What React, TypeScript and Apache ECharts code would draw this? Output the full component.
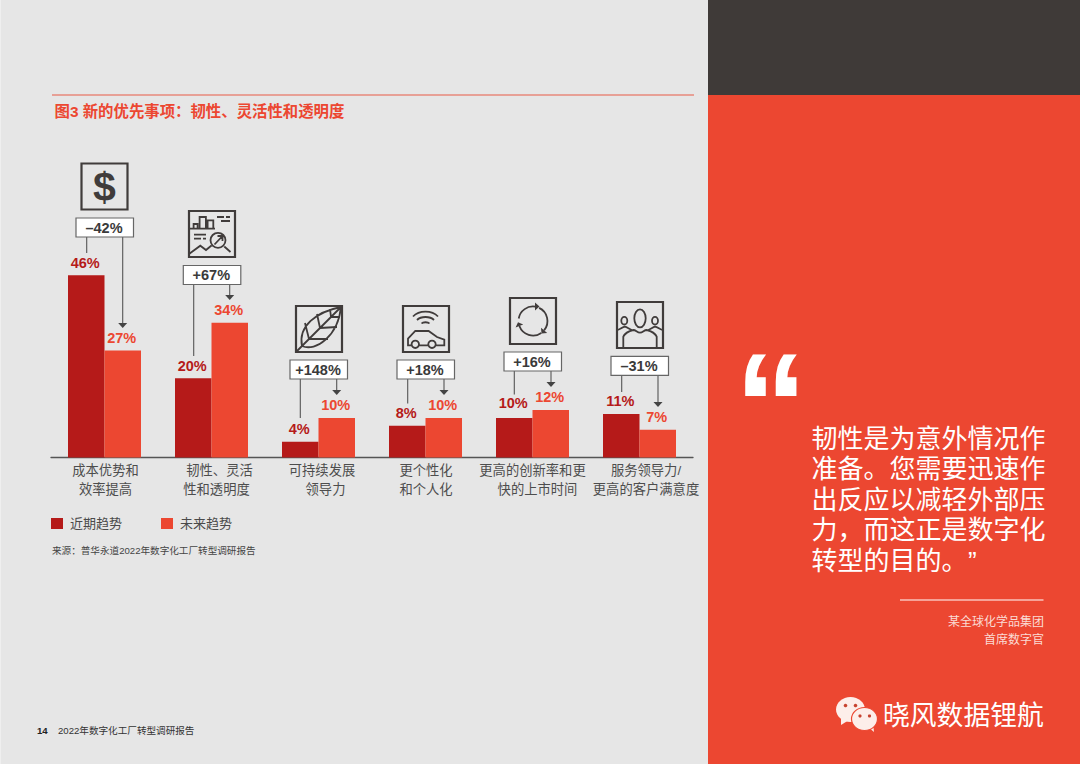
import React, { useEffect, useRef } from "react";
import * as echarts from "echarts";

const FONT = '"Liberation Sans","Noto Sans CJK SC",sans-serif';
const RED = "#ec4731";
const DARK_RED = "#b51a19";
const INK = "#403c3b";

const categories = [
  "成本优势和\n效率提高",
  "韧性、灵活\n性和透明度",
  "可持续发展\n领导力",
  "更个性化\n和个人化",
  "更高的创新率和更\n快的上市时间",
  "服务领导力/\n更高的客户满意度",
];
const recentValues = [46, 20, 4, 8, 10, 11];
const futureValues = [27, 34, 10, 10, 12, 7];
const changeLabels = ["–42%", "+67%", "+148%", "+18%", "+16%", "–31%"];
const seriesNames = ["近期趋势", "未来趋势"];
const titleText = "图3 新的优先事项：韧性、灵活性和透明度";
const sourceText = "来源：普华永道2022年数字化工厂转型调研报告";
const pageNumber = "14";
const footerText = "2022年数字化工厂转型调研报告";
const quoteLines = [
  "韧性是为意外情况作",
  "准备。您需要迅速作",
  "出反应以减轻外部压",
  "力，而这正是数字化",
  "转型的目的。",
];
const quoteClose = "”";
const attribution = ["某全球化学品集团", "首席数字官"];
const watermark = "晓风数据锂航";

// horizontal nudge (px) of each line of each axis label, as laid out in the reference
const labelNudges = [
  [1, 1],
  [8, 5],
  [3.5, 7],
  [0.5, 0.5],
  [0, 5],
  [6.5, 6.5],
];

// annotation layout: icon box, change box, left leader end, right arrow tip
const annotationLayout = [
  { ix: 81.5, iy: 163.5, bx: 76, by: 218, lx: 86.7, ly: 253, rx: 122.7, ry: 328 },
  { ix: 189, iy: 211, bx: 183.3, by: 265.5, lx: 193.7, ly: 356, rx: 229.7, ry: 300 },
  { ix: 296, iy: 306, bx: 290, by: 360, lx: 300.3, ly: 418, rx: 336.7, ry: 395 },
  { ix: 403, iy: 306, bx: 397, by: 360, lx: 407.7, ly: 403.5, rx: 444, ry: 395 },
  { ix: 510, iy: 298, bx: 504, by: 352, lx: 514.3, ly: 394.5, rx: 551, ry: 387 },
  { ix: 617, iy: 302, bx: 611, by: 356.3, lx: 621.7, ly: 392, rx: 658, ry: 407 },
];

const iconPaths: Record<string, string> = {
  iconChart:
    "M0 17.6H26M4.6 17.6V13H8.6V17.6M10.6 17.6V6H16.9V17.6M18.6 17.6V9.3H24.3V17.6M28 6H35M37 6H41M32 10H41M5 23.6H17M5 27.6H12M14 27.6H17" +
    "M36.5 29.3A7.5 7.5 0 1 1 21.5 29.3A7.5 7.5 0 1 1 36.5 29.3M35.3 35.5L41.5 41M0 43L11.3 34.7L17 39L22.5 34.5M25.5 33.5L33 25.5M28.5 25H33.5V30",
  iconLeaf:
    "M0 46L46 0M6 40C2 20 20 6 45 1M6 40C20 46 42 30 45 1M13 33L9 17M24 22L21 8M35 11L34 3M13 33L32 33M24 22L41 21M35 11L44 11",
  iconCar:
    "M10 10.5C16 4 29 4 35 10.5M14 14C18 10 27 10 31 14M18.5 17.5C20 15.8 25 15.8 26.5 17.5" +
    "M8.5 39.3H5V32.6L12.3 25H25.6L34 31L41.3 33.6V39.3H33M16 39.3H25" +
    "M16 38.3A3.7 3.7 0 1 1 8.6 38.3A3.7 3.7 0 1 1 16 38.3M32.7 38.3A3.7 3.7 0 1 1 25.3 38.3A3.7 3.7 0 1 1 32.7 38.3",
  iconCycle:
    "M8.7 20.5A14.5 14.5 0 0 1 25.5 8.7M29.1 9.9A14.5 14.5 0 0 1 34.1 32.3M31.3 34.9A14.5 14.5 0 0 1 9.4 28",
  iconCycleHeads:
    "M29.5 8.5L25 4.5V12.5ZM31.5 35.4L37.2 34.9L31 29.7ZM8 24.2L13.2 26.6L5.6 29.4Z",
  iconPeople:
    "M28.7 16.3A5.7 9 0 1 1 17.3 16.3A5.7 9 0 1 1 28.7 16.3M10.3 18.7A3 3.8 0 1 1 4.3 18.7A3 3.8 0 1 1 10.3 18.7M41 18.7A3 3.8 0 1 1 35 18.7A3 3.8 0 1 1 41 18.7" +
    "M6.3 46V34.7C8 31 12 29 16.3 28C19 28 20 30.7 23 30.7C26 30.7 27 28 29.7 28C34 29 38 31 39.7 34.7V46" +
    "M0 28C3 28 5 25 8 24.7C10 25 12 27 14.7 28M46 28C43 28 41 25 38 24.7C36 25 34 27 31.3 28",
};
Object.keys(iconPaths).forEach((name) => {
  echarts.graphic.registerShape(name, echarts.graphic.extendPath(iconPaths[name], {}));
});

const iconNames = ["", "iconChart", "iconLeaf", "iconCar", "iconCycle", "iconPeople"];

function buildGraphics() {
  const els: any[] = [
    { type: "rect", x: 0, y: 0, shape: { x: 0, y: 0, width: 1, height: 764 }, style: { fill: "#efefef" } },
    { type: "rect", shape: { x: 708, y: 0, width: 372, height: 95 }, style: { fill: "#3f3a38" } },
    { type: "rect", shape: { x: 708, y: 95, width: 372, height: 669 }, style: { fill: RED } },
    { type: "line", shape: { x1: 52, y1: 95, x2: 694, y2: 95 }, style: { stroke: "#e85a47", lineWidth: 1.2 } },
    { type: "text", x: 52, y: 550, style: { text: sourceText, font: `9.6px ${FONT}`, fill: "#444", verticalAlign: "middle" } },
    { type: "text", x: 37, y: 730.5, style: { text: pageNumber, font: `bold 9.6px ${FONT}`, fill: "#222", verticalAlign: "middle" } },
    { type: "text", x: 58, y: 730.5, style: { text: footerText, font: `9.6px ${FONT}`, fill: "#333", verticalAlign: "middle" } },
    { type: "line", shape: { x1: 900, y1: 600, x2: 1043.5, y2: 600 }, style: { stroke: "#fff", lineWidth: 1.2 } },
    { type: "text", x: 734.6, y: 332, style: { text: "“", font: `bold 146px ${FONT}`, fill: "#fff", verticalAlign: "top" } },
  ];
  quoteLines.forEach((t, i) => {
    els.push({ type: "text", x: 811.5, y: 438.5 + i * 30.6, style: { text: t, font: `26px ${FONT}`, fill: "#fff", verticalAlign: "middle" } });
  });
  els.push({
    type: "text",
    x: 968,
    y: 561,
    style: { text: quoteClose, font: `26px ${FONT}`, fill: "#fff", verticalAlign: "middle" },
  });
  attribution.forEach((t, i) => {
    els.push({ type: "text", x: 1044, y: 622 + i * 18, style: { text: t, font: `12px ${FONT}`, fill: "#fbdcd5", align: "right", verticalAlign: "middle" } });
  });
  els.push(
    { type: "polygon", shape: { points: [[841, 718], [841, 725], [849, 720]] }, style: { fill: "#fdeeea" } },
    { type: "ellipse", shape: { cx: 850.5, cy: 709.5, rx: 14.5, ry: 12.5 }, style: { fill: "#fdeeea" } },
    { type: "circle", shape: { cx: 845.5, cy: 705.5, r: 1.8 }, style: { fill: "#c8432f" } },
    { type: "circle", shape: { cx: 855.5, cy: 705.5, r: 1.8 }, style: { fill: "#c8432f" } },
    { type: "polygon", shape: { points: [[868, 727], [874, 732], [873, 723]] }, style: { fill: "#fdeeea" } },
    { type: "ellipse", shape: { cx: 864.5, cy: 719, rx: 13, ry: 11.5 }, style: { fill: "#fdeeea", stroke: RED, lineWidth: 1.2 } },
    { type: "circle", shape: { cx: 860, cy: 716, r: 1.6 }, style: { fill: "#c8432f" } },
    { type: "circle", shape: { cx: 869.5, cy: 716, r: 1.6 }, style: { fill: "#c8432f" } },
    { type: "text", x: 883, y: 716, style: { text: watermark, font: `26.8px ${FONT}`, fill: "#fff", verticalAlign: "middle" } }
  );

  annotationLayout.forEach((a, i) => {
    els.push({
      type: "rect",
      shape: { x: a.ix, y: a.iy, width: 46, height: 46 },
      style: { fill: "none", stroke: INK, lineWidth: 2.2 },
    });
    if (i === 0) {
      els.push({
        type: "text",
        x: a.ix + 23,
        y: a.iy + 23.5,
        style: { text: "$", font: `bold 41px ${FONT}`, fill: INK, align: "center", verticalAlign: "middle" },
      });
    } else {
      els.push({ type: iconNames[i], x: a.ix, y: a.iy, style: { fill: "none", stroke: INK, lineWidth: 1.8 } });
      if (iconNames[i] === "iconCycle") {
        els.push({ type: "iconCycleHeads", x: a.ix, y: a.iy, style: { fill: INK, stroke: "none" } });
      }
    }
    els.push(
      { type: "line", shape: { x1: a.lx, y1: a.by + 19, x2: a.lx, y2: a.ly }, style: { stroke: "#555", lineWidth: 1.1 } },
      { type: "line", shape: { x1: a.rx, y1: a.by + 19, x2: a.rx, y2: a.ry - 3 }, style: { stroke: "#555", lineWidth: 1.1 } },
      { type: "polygon", shape: { points: [[a.rx - 4.5, a.ry - 5], [a.rx + 4.5, a.ry - 5], [a.rx, a.ry]] }, style: { fill: "#444" } },
      {
        type: "rect",
        shape: { x: a.bx, y: a.by, width: 57.5, height: 19 },
        style: { fill: "#fff", stroke: "#666", lineWidth: 1.2 },
      },
      {
        type: "text",
        x: a.bx + 28,
        y: a.by + 9.8,
        style: { text: changeLabels[i], font: `bold 14.5px ${FONT}`, fill: "#3a3a3a", align: "center", verticalAlign: "middle" },
      }
    );
  });
  return els;
}

function buildRich() {
  const rich: Record<string, any> = {};
  labelNudges.forEach((pair, i) => {
    pair.forEach((nudge, j) => {
      rich[`l${i}_${j}`] = {
        fontFamily: FONT,
        fontSize: 13.3,
        lineHeight: 18.5,
        color: "#4d4d4d",
        padding: [0, 0, 0, nudge * 2],
      };
    });
  });
  return rich;
}

export default function App() {
  const ref = useRef<HTMLDivElement>(null);
  useEffect(() => {
    const chart = echarts.init(ref.current!, undefined, { renderer: "svg" });
    const barLabel = (color: string) => ({
      show: true,
      position: "top" as const,
      distance: 5.5,
      offset: [-1, 0],
      formatter: "{c}%",
      fontFamily: FONT,
      fontWeight: "bold" as const,
      fontSize: 14.5,
      color,
    });
    chart.setOption({
      animation: false,
      backgroundColor: "#e6e6e6",
      title: {
        text: titleText,
        left: 54.5,
        top: 103.5,
        padding: 0,
        textStyle: { fontFamily: FONT, fontSize: 15.4, fontWeight: "bold", color: RED },
      },
      legend: {
        left: 51,
        top: 517,
        padding: 0,
        itemWidth: 12,
        itemHeight: 11,
        itemGap: 39,
        icon: "rect",
        data: seriesNames,
        textStyle: { fontFamily: FONT, fontSize: 13, color: "#4a4a4a", padding: [0, 0, 0, 2] },
      },
      grid: { left: 51, width: 642, top: 259.5, height: 198, containLabel: false },
      xAxis: {
        type: "category",
        data: categories,
        axisLine: { lineStyle: { color: "#555", width: 1.3 } },
        axisTick: { show: false },
        axisLabel: {
          interval: 0,
          margin: 4,
          hideOverlap: false,
          fontFamily: FONT,
          fontSize: 13.3,
          lineHeight: 18.5,
          color: "#4d4d4d",
          formatter: (value: string, index: number) =>
            value
              .split("\n")
              .map((line, j) => `{l${index}_${j}|${line}}`)
              .join("\n"),
          rich: buildRich(),
        },
      },
      yAxis: { type: "value", min: 0, max: 50, show: false },
      series: [
        {
          name: seriesNames[0],
          type: "bar",
          barWidth: 36.5,
          barGap: 0,
          itemStyle: { color: DARK_RED },
          label: barLabel(DARK_RED),
          data: recentValues.map((v, i) => (i === 4 ? { value: v, label: { offset: [-1, -2] } } : v)),
        },
        {
          name: seriesNames[1],
          type: "bar",
          barWidth: 36.5,
          barGap: 0,
          itemStyle: { color: RED },
          label: barLabel(RED),
          data: futureValues,
        },
      ],
      graphic: { elements: buildGraphics() },
    });
    return () => chart.dispose();
  }, []);
  return <div ref={ref} style={{ position: "absolute", left: 0, top: 0, width: 1080, height: 764 }} />;
}
